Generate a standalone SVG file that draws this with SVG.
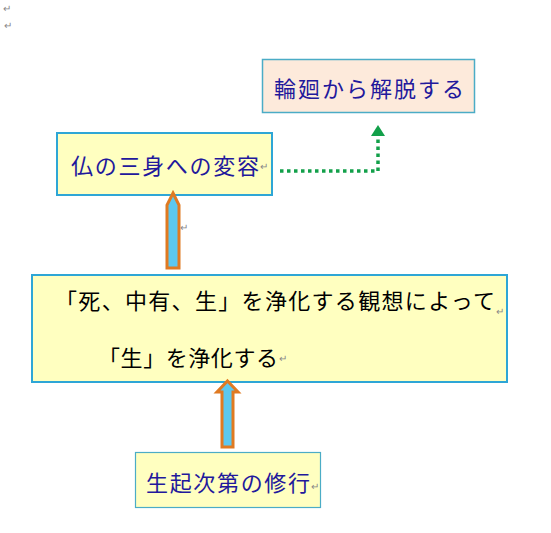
<svg xmlns="http://www.w3.org/2000/svg" width="551" height="533" viewBox="0 0 551 533">
<style>
text{font-family:"Noto Sans CJK JP","Noto Sans",sans-serif}
.t{font-size:22px;fill:#22189c}
.k{font-size:22px;fill:#000}
.m{font-size:10px;fill:#888}
.arr{fill:#5cc8ef;stroke:#e07a22;stroke-width:3;stroke-linejoin:miter}
</style>
<rect width="551" height="533" fill="#fff"/>
<text class="m" x="3" y="12">↵</text>
<text class="m" x="4" y="29">↵</text>
<g id="n1">
<rect x="262.5" y="59.5" width="212" height="53" fill="#fdeadb" stroke="#4bacc6" stroke-width="1.5"/>
<text class="t" x="274" y="97" textLength="190" lengthAdjust="spacing">輪廻から解脱する</text>
</g>
<g id="n2">
<rect x="57" y="133" width="215" height="62" fill="#ffffc0" stroke="#2ea6d6" stroke-width="2"/>
<text class="t" x="71" y="174" textLength="188" lengthAdjust="spacing">仏の三身への変容</text>
<text class="m" x="260" y="170">↵</text>
</g>
<g id="n3">
<rect x="32" y="275" width="475" height="107" fill="#ffffc0" stroke="#2ea6d6" stroke-width="2"/>
<text class="k" x="55" y="309" textLength="440" lengthAdjust="spacing">「死、中有、生」を浄化する観想によって</text>
<text class="m" x="496" y="315">↵</text>
<text class="k" x="98" y="366" textLength="180" lengthAdjust="spacing">「生」を浄化する</text>
<text class="m" x="279" y="362">↵</text>
</g>
<g id="n4">
<rect x="135.5" y="452.5" width="185" height="55" fill="#ffffc0" stroke="#4bacc6" stroke-width="1.2"/>
<text class="t" x="146" y="491" textLength="164" lengthAdjust="spacing">生起次第の修行</text>
<text class="m" x="311" y="490">↵</text>
</g>
<g id="connectors">
<polyline points="280,171 378,171 378,136" fill="none" stroke="#12a04a" stroke-width="3.5" stroke-dasharray="3.5,3.5"/>
<polygon points="378,125 385,136 371,136" fill="#12a04a"/>
<polygon class="arr" points="173,193 179,205 179,268 167,268 167,205"/>
<text class="m" x="180" y="231">↵</text>
<polygon class="arr" points="227.5,381 238,392 233,392 233,447 222,447 222,392 217,392"/>
</g>
</svg>
